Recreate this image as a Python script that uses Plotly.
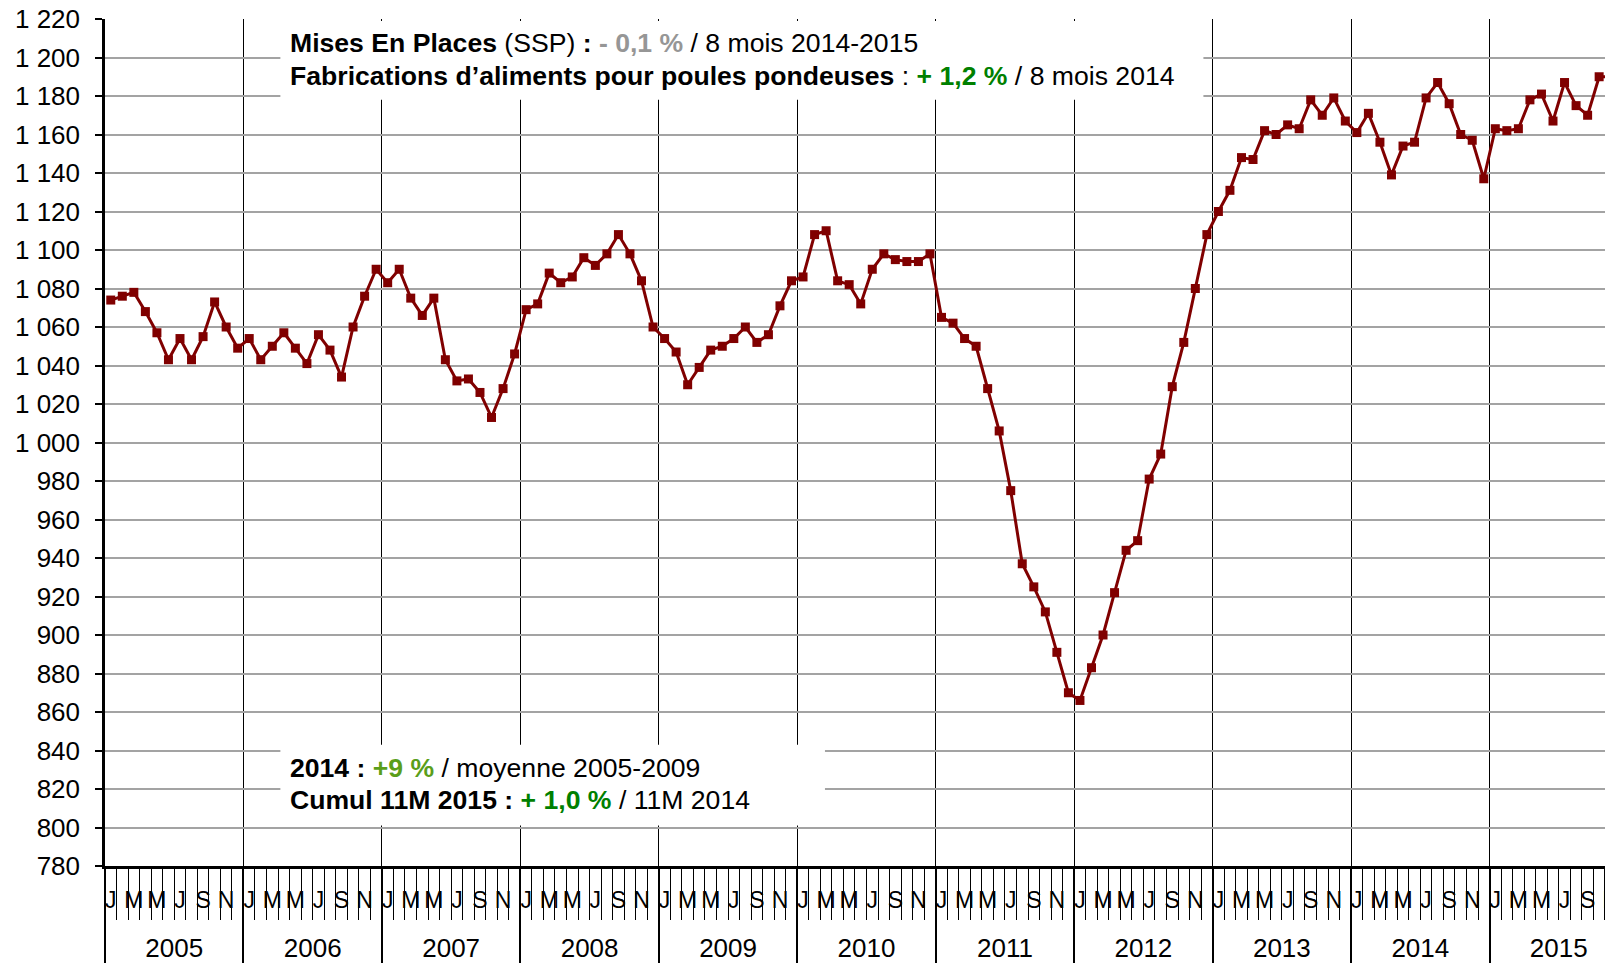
import plotly.graph_objects as go

# ---------------- data ----------------
years = ["2005", "2006", "2007", "2008", "2009", "2010", "2011", "2012", "2013", "2014", "2015"]
month_letters = ["J", "F", "M", "A", "M", "J", "J", "A", "S", "O", "N", "D"]

v2005 = [1074, 1076, 1078, 1068, 1057, 1043, 1054, 1043, 1055, 1073, 1060, 1049]
v2006 = [1054, 1043, 1050, 1057, 1049, 1041, 1056, 1048, 1034, 1060, 1076, 1090]
v2007 = [1083, 1090, 1075, 1066, 1075, 1043, 1032, 1033, 1026, 1013, 1028, 1046]
v2008 = [1069, 1072, 1088, 1083, 1086, 1096, 1092, 1098, 1108, 1098, 1084, 1060]
v2009 = [1054, 1047, 1030, 1039, 1048, 1050, 1054, 1060, 1052, 1056, 1071, 1084]
v2010 = [1086, 1108, 1110, 1084, 1082, 1072, 1090, 1098, 1095, 1094, 1094, 1098]
v2011 = [1065, 1062, 1054, 1050, 1028, 1006, 975, 937, 925, 912, 891, 870]
v2012 = [866, 883, 900, 922, 944, 949, 981, 994, 1029, 1052, 1080, 1108]
v2013 = [1120, 1131, 1148, 1147, 1162, 1160, 1165, 1163, 1178, 1170, 1179, 1167]
v2014 = [1161, 1171, 1156, 1139, 1154, 1156, 1179, 1187, 1176, 1160, 1157, 1137]
v2015 = [1163, 1162, 1163, 1178, 1181, 1167, 1187, 1175, 1170, 1190, 1190]

values = v2005 + v2006 + v2007 + v2008 + v2009 + v2010 + v2011 + v2012 + v2013 + v2014 + v2015
month_idx = list(range(len(values)))

# ---------------- styling ----------------
FONT = "Liberation Sans, Arial, sans-serif"
RED = "#800000"
GRID = "#a3a3a3"

n_years = len(years)
month_tickvals = [k for k in range(0, 12 * n_years, 2)]
month_ticktext = [month_letters[k % 12] for k in month_tickvals]
year_centers = [12 * i + 5.5 for i in range(n_years)]

x_range = [-0.5, 130.2]

fig = go.Figure()
fig.add_trace(go.Scatter(
    x=month_idx, y=values, mode="lines+markers",
    line=dict(color=RED, width=3),
    marker=dict(symbol="square", size=9, color=RED),
    showlegend=False, hoverinfo="x+y", cliponaxis=True,
))
# helper trace so the year axis is drawn
fig.add_trace(go.Scatter(
    x=month_idx, y=values, xaxis="x2", mode="lines",
    line=dict(width=0, color="rgba(0,0,0,0)"), opacity=0,
    showlegend=False, hoverinfo="skip",
))

fig.update_layout(
    width=1605, height=955,
    margin=dict(l=97, r=0, t=11, b=97, autoexpand=False),
    paper_bgcolor="white", plot_bgcolor="white",
    font=dict(family=FONT, color="black"),
    separators=", ",
    xaxis=dict(
        range=x_range, tickmode="array", tickvals=month_tickvals, ticktext=month_ticktext,
        ticks="", showgrid=False, zeroline=False, automargin=False,
        showline=True, linecolor="black", linewidth=2.5, ticklabeloverflow="allow",
        tickfont=dict(size=23, family=FONT), ticklabelstandoff=12,
        minor=dict(tickmode="linear", tick0=-0.5, dtick=1, ticks="outside",
                   ticklen=51, tickwidth=1.2, tickcolor="black", showgrid=False),
    ),
    xaxis2=dict(
        range=x_range, overlaying="x", anchor="y", side="bottom", automargin=False,
        tickmode="array", tickvals=year_centers, ticktext=years, ticklabeloverflow="allow",
        ticks="", showgrid=False, zeroline=False, showline=False,
        tickfont=dict(size=26, family=FONT), ticklabelstandoff=64,
        minor=dict(tickmode="linear", tick0=-0.5, dtick=12, ticks="outside",
                   ticklen=100, tickwidth=1.5, tickcolor="black",
                   showgrid=True, gridcolor="black", gridwidth=1.3),
    ),
    yaxis=dict(
        range=[780, 1220], tickmode="linear", tick0=780, dtick=20, automargin=False,
        tickformat=",d", showgrid=True, gridcolor=GRID, gridwidth=1.6,
        zeroline=False, showline=True, linecolor="black", linewidth=2.5,
        ticks="outside", ticklen=7, tickwidth=1.5, tickcolor="black",
        ticklabeloverflow="allow",
        tickfont=dict(size=26, family=FONT), ticklabelstandoff=10,
    ),
)

# white boxes behind the text blocks
fig.add_shape(type="rect", xref="x", yref="y", x0=14.7, x1=94.7, y0=1178, y1=1219,
              fillcolor="white", line=dict(width=0), layer="above")
fig.add_shape(type="rect", xref="x", yref="y", x0=14.7, x1=61.9, y0=801, y1=843,
              fillcolor="white", line=dict(width=0), layer="above")

GREY_TXT = "#969696"
GREEN = "#008000"
LGREEN = "#5a9e1a"
ann_font = dict(family=FONT, size=26.6, color="black")
lines = [
    (1207.5, "<b>Mises En Places</b> (SSP) <b>: </b><b><span style='color:%s'>- 0,1 %%</span></b> / 8 mois 2014-2015" % GREY_TXT),
    (1190.5, "<b>Fabrications d’aliments pour poules pondeuses</b> : <b><span style='color:%s'>+ 1,2 %%</span></b> / 8 mois 2014" % GREEN),
    (830.9, "<b>2014 : </b><b><span style='color:%s'>+9 %%</span></b> / moyenne 2005-2009" % LGREEN),
    (814.3, "<b>Cumul 11M 2015 : </b><b><span style='color:%s'>+ 1,0 %%</span></b> / 11M 2014" % GREEN),
]
for yv, txt in lines:
    fig.add_annotation(x=15.4, y=yv, xref="x", yref="y", text=txt, showarrow=False,
                       xanchor="left", yanchor="middle", font=ann_font, align="left")

fig.write_html("out.html")
